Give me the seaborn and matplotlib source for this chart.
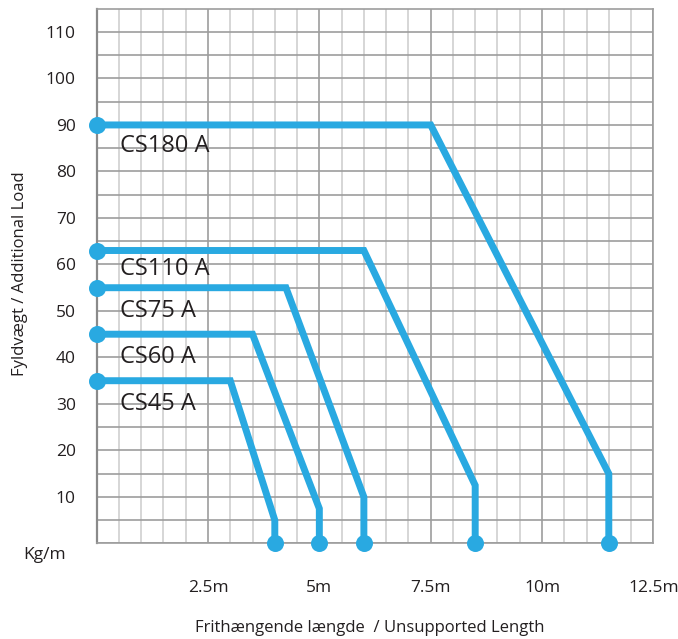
import pandas as pd
import numpy as np
import matplotlib
matplotlib.use("Agg")
import matplotlib.pyplot as plt
import seaborn as sns

# Load curves (x in m, y in kg/m)
cs180_x = [0, 7.5, 11.5, 11.5]
cs180_y = [90, 90, 15, 0]
cs110_x = [0, 6, 8.5, 8.5]
cs110_y = [63, 63, 12.5, 0]
cs75_x = [0, 4.25, 6, 6]
cs75_y = [55, 55, 10, 0]
cs60_x = [0, 3.5, 5, 5]
cs60_y = [45, 45, 7.5, 0]
cs45_x = [0, 3, 4, 4]
cs45_y = [35, 35, 5, 0]

names = ["CS180 A", "CS110 A", "CS75 A", "CS60 A", "CS45 A"]
label_y = [85.5, 59, 50, 40, 30]

x_ticks = [0, 2.5, 5, 7.5, 10, 12.5]
x_ticklabels = ["", "2.5m", "5m", "7.5m", "10m", "12.5m"]

LINE = "#29a9e1"
GRID = "#9d9d9d"
MINOR = "#cfcfcf"
TEXT = "#231f20"

sns.set_style("white")
plt.rcParams["font.family"] = ["Open Sans", "DejaVu Sans"]

curves = [(cs180_x, cs180_y), (cs110_x, cs110_y), (cs75_x, cs75_y),
          (cs60_x, cs60_y), (cs45_x, cs45_y)]
frames = []
for name, (xs, ys) in zip(names, curves):
    frames.append(pd.DataFrame({"name": name, "x": xs, "y": ys, "order": range(len(xs))}))
df = pd.concat(frames, ignore_index=True)
ends = df[(df["order"] == 0) | (df["order"] == 3)]

fig = plt.figure(figsize=(6.78, 6.39), dpi=100)
ax = fig.add_axes([0.1426, 0.1495, 0.8210, 0.8369])

# grid
ax.set_xticks(np.arange(0, 12.51, 0.5), minor=True)
ax.set_yticks(np.arange(0, 111, 5))
ax.set_xticks(x_ticks)
ax.grid(True, which="minor", axis="x", color=MINOR, linewidth=1.2)
ax.grid(True, which="major", axis="x", color=GRID, linewidth=1.2)
ax.grid(True, which="major", axis="y", color=GRID, linewidth=1.2)
ax.set_axisbelow(True)

sns.lineplot(data=df, x="x", y="y", units="name", estimator=None, sort=False,
             color=LINE, linewidth=5, ax=ax, legend=False,
             solid_joinstyle="miter", solid_capstyle="butt")
sns.scatterplot(data=ends, x="x", y="y", color=LINE, s=150, linewidth=0,
                ax=ax, legend=False, zorder=5, clip_on=False)

for name, ly in zip(names, label_y):
    ax.text(0.52, ly, name, fontsize=17, color=TEXT, va="center", ha="left")

ax.set_xlim(0, 12.5)
ax.set_ylim(0, 115)

ax.set_xticklabels(x_ticklabels)
ax.set_yticklabels([str(v) if v % 10 == 0 and v > 0 else "" for v in range(0, 111, 5)])
ax.tick_params(axis="x", which="major", length=10, width=1.2, color=GRID,
               pad=16, labelsize=12.5, labelcolor=TEXT)
ax.tick_params(axis="x", which="minor", length=0)
ax.tick_params(axis="y", length=9, width=1.2, color=GRID, pad=6,
               labelsize=12.5, labelcolor=TEXT)

for side in ["top", "right", "bottom"]:
    ax.spines[side].set_color(GRID)
    ax.spines[side].set_linewidth(1.2)
ax.spines["left"].set_color("#8a8a8a")
ax.spines["left"].set_linewidth(1.6)

ax.text(-0.055, -2.5, "Kg/m", transform=ax.get_yaxis_transform(), fontsize=12.5,
        color=TEXT, ha="right", va="center")

ax.set_xlabel("Frithængende længde  / Unsupported Length", fontsize=12, color=TEXT)
ax.xaxis.set_label_coords(0.49, -0.158)
ax.xaxis.label.set_va("center")
ax.set_ylabel("Fyldvægt / Additional Load", fontsize=12, color=TEXT)
ax.yaxis.set_label_coords(-0.137, 0.505)
ax.yaxis.label.set_va("center")

fig.savefig("out.png", dpi=100)
